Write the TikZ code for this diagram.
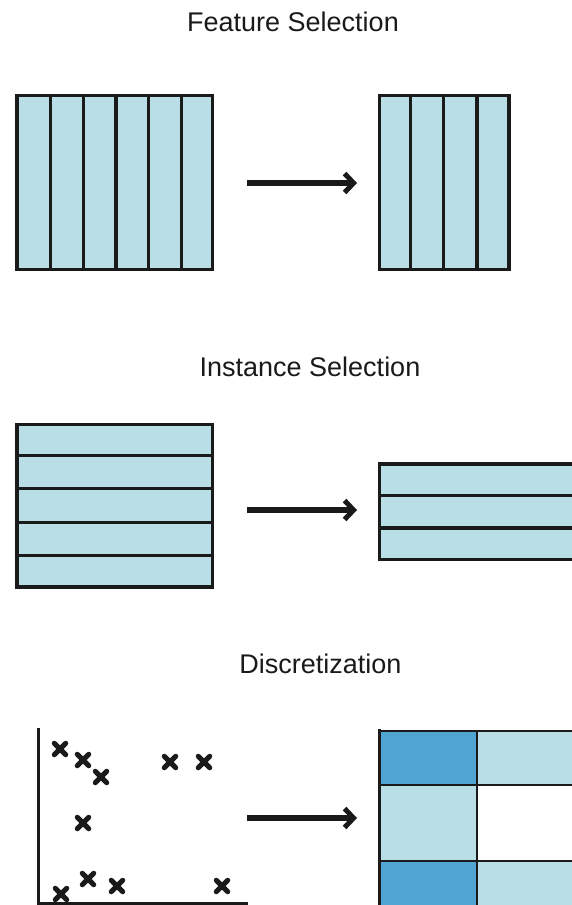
\documentclass[tikz,border=0pt]{standalone}
\usepackage{fontspec}
\setmainfont{Liberation Sans}
\usetikzlibrary{arrows.meta,shapes.misc}
\definecolor{lblue}{HTML}{B9DEE6}
\definecolor{dblue}{HTML}{4FA4D2}
\definecolor{ink}{HTML}{1A1A1A}
\tikzset{
  title/.style={anchor=base, inner sep=0pt, font=\fontsize{27}{32}\selectfont, text=ink},
  block/.style={draw=ink, fill=lblue, line width=3.3pt, inner sep=0pt, rectangle},
  divider/.style={draw=ink, line width=3.2pt},
  thin/.style={draw=ink, line width=2pt},
  flow/.style={draw=ink, line width=5.5pt, -{Straight Barb[length=9pt,width=19pt,line width=5pt]}},
  axis/.style={draw=ink, line width=3pt},
  xmark/.style={cross out, draw=ink, line width=5pt, line cap=round, minimum size=6.5pt, inner sep=0pt},
}
\begin{document}
\begin{tikzpicture}[x=1pt,y=-1pt]
\useasboundingbox (0,0) rectangle (572,905);
\clip (0,0) rectangle (572,905);
\fill[white] (0,0) rectangle (572,905);

% ---------- Feature Selection ----------
\node[title] (t1) at (293,31.5) {Feature Selection};
\node[block, minimum width=195.5pt, minimum height=174pt] (fsA) at (114.75,182.5) {};
\foreach \xx in {50.3,83.3,116,148.5,181.3}
  \draw[divider] (\xx,95.5) -- (\xx,269.5);
\node[block, minimum width=129.5pt, minimum height=174pt] (fsB) at (444.25,182.5) {};
\foreach \xx in {410.7,443.7,477}
  \draw[divider] (\xx,95.5) -- (\xx,269.5);
\coordinate (a1s) at (247,183);
\coordinate (a1e) at (357,183);
\draw[flow] (a1s) -- (a1e);

% ---------- Instance Selection ----------
\node[title] (t2) at (310,376.5) {Instance Selection};
\node[block, minimum width=195.5pt, minimum height=162.5pt] (isA) at (114.75,505.75) {};
\foreach \yy in {455.7,488.7,522.5,555.3}
  \draw[divider] (16.5,\yy) -- (212.5,\yy);
\node[block, minimum width=220pt, minimum height=95.5pt] (isB) at (489.5,511.75) {};
\foreach \yy in {495.5,528}
  \draw[divider] (379.5,\yy) -- (600,\yy);
\coordinate (a2s) at (247,510);
\coordinate (a2e) at (357,510);
\draw[flow] (a2s) -- (a2e);

% ---------- Discretization ----------
\node[title] (t3) at (320.5,673) {Discretization};
\coordinate (origin) at (38,903);
\coordinate (ytop) at (38,728);
\coordinate (xend) at (248,903);
\draw[axis] (ytop) -- (origin) -- (xend);
\node[xmark] (m1) at (60,749) {};
\node[xmark] (m2) at (83,760) {};
\node[xmark] (m3) at (101,777) {};
\node[xmark] (m4) at (170,762) {};
\node[xmark] (m5) at (204,762) {};
\node[xmark] (m6) at (83,823) {};
\node[xmark] (m7) at (88,879) {};
\node[xmark] (m8) at (117,886) {};
\node[xmark] (m9) at (222,886) {};
\node[xmark] (m10) at (61,894) {};
\coordinate (a3s) at (247,818);
\coordinate (a3e) at (357,818);
\draw[flow] (a3s) -- (a3e);

% grid
\fill[dblue] (379.5,731) rectangle (477,785);
\fill[lblue] (477,731) rectangle (600,785);
\fill[lblue] (379.5,785) rectangle (477,861);
\fill[white] (477,785) rectangle (600,861);
\fill[dblue] (379.5,861) rectangle (477,910);
\fill[lblue] (477,861) rectangle (600,910);
\node[draw=ink, line width=2pt, minimum width=220pt, minimum height=179pt, inner sep=0pt] (grid) at (489.5,820.5) {};
\draw[thin] (477,731) -- (477,910);
\draw[thin] (379.5,785) -- (600,785);
\draw[thin] (379.5,861) -- (600,861);
\draw[draw=ink, line width=3.3pt] (379.5,729) -- (379.5,910);
\end{tikzpicture}
\end{document}
